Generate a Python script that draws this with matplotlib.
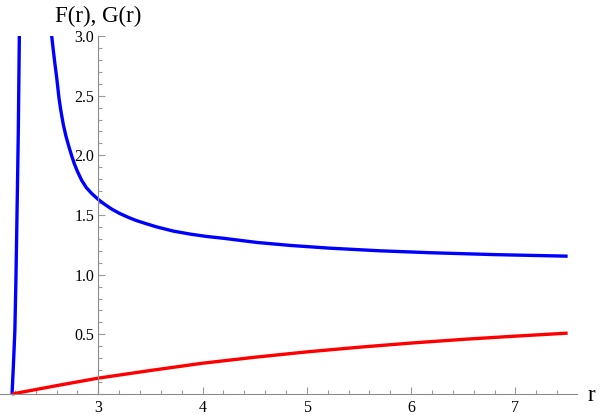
import numpy as np
import matplotlib
matplotlib.use('Agg')
import matplotlib.pyplot as plt
from matplotlib.ticker import FixedLocator

# F(r), left branch (rises from zero to the top of the range)
r_f_left = [2.173, 2.187, 2.200, 2.210, 2.218, 2.226, 2.233, 2.238, 2.243, 2.247]
f_left = [0.0, 0.26, 0.53, 0.95, 1.37, 1.80, 2.20, 2.60, 3.00, 3.30]

# F(r), right branch (falls from the top towards ~1.15)
r_f_right = [2.545, 2.553, 2.57, 2.585, 2.60, 2.623, 2.64, 2.664, 2.69, 2.719,
             2.745, 2.770, 2.80, 2.841, 2.885, 2.937, 3.0, 3.06, 3.128, 3.2,
             3.288, 3.36, 3.448, 3.56, 3.72, 3.88, 4.04, 4.20, 4.52, 4.84,
             5.22, 5.70, 6.18, 6.80, 7.5]
f_right = [3.08, 3.00, 2.87, 2.76, 2.66, 2.48, 2.38, 2.26, 2.16, 2.07,
           1.995, 1.93, 1.865, 1.79, 1.73, 1.68, 1.63, 1.59, 1.55, 1.515,
           1.48, 1.455, 1.43, 1.40, 1.365, 1.34, 1.32, 1.305, 1.27, 1.245,
           1.222, 1.20, 1.184, 1.168, 1.155]

# G(r)
r_g = [2.173, 2.6, 3.0, 3.5, 4.0, 4.5, 5.0, 5.5, 6.0, 6.5, 7.0, 7.5]
g = [0.0, 0.07, 0.133, 0.197, 0.258, 0.308, 0.353, 0.392, 0.427, 0.458, 0.485, 0.51]

x_ticks = [3, 4, 5, 6, 7]
x_labels = ['3', '4', '5', '6', '7']
y_ticks = [0.5, 1.0, 1.5, 2.0, 2.5, 3.0]
y_labels = ['0.5', '1.0', '1.5', '2.0', '2.5', '3.0']

serif = ['Liberation Serif', 'DejaVu Serif']
plt.rcParams['font.family'] = serif

fig = plt.figure(figsize=(6, 4.17), dpi=100)
ax = fig.add_axes([0.0, 17 / 417, 577 / 600, 364 / 417])

ax.plot(r_f_left, f_left, color=(0, 0, 1), lw=2.4, solid_capstyle='butt')
ax.plot(r_f_right, f_right, color=(0, 0, 1), lw=2.4, solid_capstyle='butt')
ax.plot(r_g, g, color=(1, 0, 0), lw=2.4, solid_capstyle='butt')

ax.set_xlim(2.0575, 7.5897)
ax.set_ylim(-6 / 119.33, 3.0)

# Mathematica-style axes crossing at (3, 0)
for s in ['top', 'right']:
    ax.spines[s].set_visible(False)
ax.spines['left'].set_position(('data', 3))
ax.spines['bottom'].set_position(('data', 0))
ax.spines['left'].set_bounds(0, 3)
ax.spines['bottom'].set_bounds(2.0575, 7.5897)
for s in ['left', 'bottom']:
    ax.spines[s].set_color('#8c8c8c')
    ax.spines[s].set_linewidth(0.8)
ax.patch.set_visible(False)

ax.xaxis.set_major_locator(FixedLocator(x_ticks))
ax.xaxis.set_minor_locator(FixedLocator(np.arange(2.2, 7.61, 0.2)))
ax.yaxis.set_major_locator(FixedLocator(y_ticks))
ax.yaxis.set_minor_locator(FixedLocator(np.arange(0.1, 3.0, 0.1)))
ax.set_xticklabels(x_labels, fontfamily=serif)
ax.set_yticklabels(y_labels, fontfamily=serif)

ax.tick_params(which='both', direction='in', color='#9a9a9a', width=0.8,
               labelsize=11.5, labelcolor='black')
ax.tick_params(which='major', length=5)
ax.tick_params(which='minor', length=2.8)
ax.tick_params(axis='x', which='major', pad=4)
ax.tick_params(axis='y', which='major', pad=3)

fig.text(98 / 600, 1 - 22 / 417, 'F(r), G(r)', fontsize=16.5,
         ha='center', va='baseline')
fig.text(588 / 600, 1 - 401 / 417, 'r', fontsize=16.5,
         ha='left', va='baseline')

fig.savefig('out.png', dpi=100)
